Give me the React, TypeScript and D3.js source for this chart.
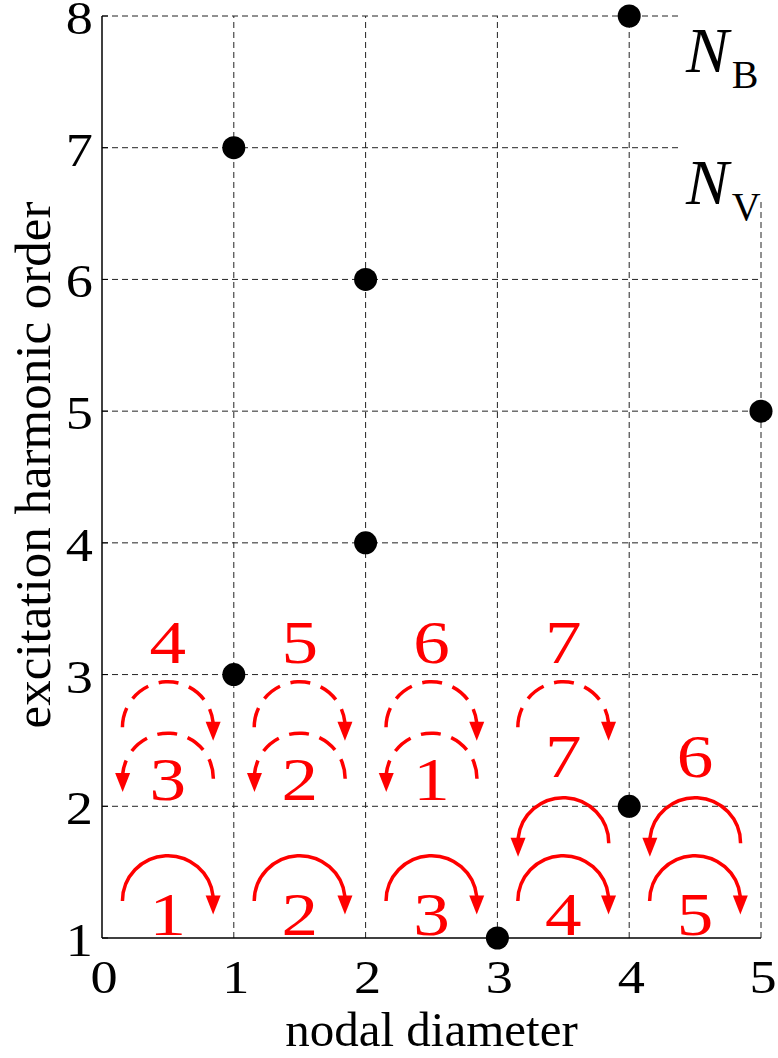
import React from "react";
import * as d3 from "d3";

// ---- data ----
const pointX = [1, 1, 2, 2, 3, 4, 4, 5];
const pointY = [7, 3, 6, 4, 1, 8, 2, 5];
const xTicks = [0, 1, 2, 3, 4, 5];
const yTicks = [1, 2, 3, 4, 5, 6, 7, 8];

// red arc annotations: cell index (left nodal diameter), label
const solidCwCells = [0, 1, 2, 3, 4];
const solidCwLabels = ["1", "2", "3", "4", "5"];
const solidCcwCells = [3, 4];
const solidCcwLabels = ["7", "6"];
const dashedCwCells = [0, 1, 2, 3];
const dashedCwLabels = ["4", "5", "6", "7"];
const dashedCcwCells = [0, 1, 2];
const dashedCcwLabels = ["3", "2", "1"];

const legendMain = ["N", "N"];
const legendSub = ["B", "V"];
const legendRowsY = [8, 7];

const W = 778;
const H = 1058;
const RED = "#ff0000";
const FF = "Liberation Serif";

const x = d3.scaleLinear().domain([0, 5]).range([102, 761]);
const y = d3.scaleLinear().domain([1, 8]).range([938, 16]);

const rows = {
  solidCw: { cy: 1.28, labelDy: 34, cw: true, dashed: false },
  solidCcw: { cy: 1.72, labelDy: -66, cw: false, dashed: false },
  dashedCcw: { cy: 2.21, labelDy: 21, cw: false, dashed: true },
  dashedCw: { cy: 2.6, labelDy: -64, cw: true, dashed: true },
};

function arcShape(cell: number, cyData: number, cw: boolean) {
  const cx = x(cell + 0.5);
  const cy = y(cyData);
  const r = (x(1) - x(0)) * 0.345;
  const delta = 0.1;
  const p = d3.path();
  let a0: number, a1: number;
  if (cw) {
    a0 = Math.PI;
    a1 = 2 * Math.PI - delta;
  } else {
    a0 = 0;
    a1 = -Math.PI + delta;
  }
  p.moveTo(cx + r * Math.cos(a0), cy + r * Math.sin(a0));
  p.arc(cx, cy, r, a0, a1, !cw);
  const ex = cx + r * Math.cos(a1);
  const ey = cy + r * Math.sin(a1);
  const hw = 7.5;
  const len = 18;
  const head = `M${ex - hw},${ey - 1}L${ex + hw},${ey - 1}L${ex},${ey + len}Z`;
  return { d: p.toString(), head, cx, cy };
}

function Digit({ x0, y0, size, fill, anchor, children }: any) {
  return (
    <text
      transform={`translate(${x0},${y0}) scale(1.18,1)`}
      textAnchor={anchor}
      fontSize={size}
      fontFamily={FF}
      fill={fill}
    >
      {children}
    </text>
  );
}

function ArcGroup({ cells, labels, row }: { cells: number[]; labels: string[]; row: any }) {
  return (
    <g>
      {cells.map((c, i) => {
        const s = arcShape(c, row.cy, row.cw);
        return (
          <g key={i}>
            <path
              d={s.d}
              fill="none"
              stroke={RED}
              strokeWidth={3.5}
              strokeDasharray={row.dashed ? "20,11" : undefined}
            />
            <path d={s.head} fill={RED} />
            <Digit x0={s.cx} y0={s.cy + row.labelDy} size={62} fill={RED} anchor="middle">
              {labels[i]}
            </Digit>
          </g>
        );
      })}
    </g>
  );
}

export default function App() {
  const gridStroke = "#222";
  const dash = "6,4";
  return (
    <svg
      width={W}
      height={H}
      style={{ position: "absolute", left: 0, top: 0, background: "#fff" }}
    >
      <rect x={0} y={0} width={W} height={H} fill="#fff" />
      {yTicks.slice(1).map((t) => (
        <line
          key={"h" + t}
          x1={x(0)}
          x2={x(5)}
          y1={y(t)}
          y2={y(t)}
          stroke={gridStroke}
          strokeWidth={1}
          strokeDasharray={dash}
        />
      ))}
      {xTicks.slice(1).map((t) => (
        <line
          key={"v" + t}
          x1={x(t)}
          x2={x(t)}
          y1={y(1)}
          y2={y(8)}
          stroke={gridStroke}
          strokeWidth={1}
          strokeDasharray={dash}
        />
      ))}
      <rect x={681} y={0} width={W - 681} height={199} fill="#fff" />
      {legendMain.map((m, i) => (
        <text key={i} x={686} y={y(legendRowsY[i]) + 56} fontFamily={FF} fill="#000">
          <tspan fontSize={64} fontStyle="italic">
            {m}
          </tspan>
          <tspan fontSize={40} dy={16} dx={3}>
            {legendSub[i]}
          </tspan>
        </text>
      ))}
      <line x1={x(0)} x2={x(0)} y1={y(8)} y2={y(1)} stroke="#000" strokeWidth={1.5} />
      <line x1={x(0)} x2={x(5)} y1={y(1)} y2={y(1)} stroke="#000" strokeWidth={1.5} />
      {yTicks.map((t) => (
        <line key={"yt" + t} x1={x(0)} x2={x(0) + 6} y1={y(t)} y2={y(t)} stroke="#000" strokeWidth={1} />
      ))}
      {yTicks.map((t) => (
        <Digit key={"yl" + t} x0={x(0) - 9} y0={y(t) + 18} size={46} fill="#000" anchor="end">
          {t}
        </Digit>
      ))}
      {xTicks.map((t) => (
        <Digit key={"xl" + t} x0={x(t) + 2} y0={y(1) + 55} size={46} fill="#000" anchor="middle">
          {t}
        </Digit>
      ))}
      <text x={x(2.5)} y={1046} textAnchor="middle" fontSize={49} fontFamily={FF}>
        nodal diameter
      </text>
      <text
        transform={`translate(50,${(y(1) + y(8)) / 2 - 12}) rotate(-90)`}
        textAnchor="middle"
        fontSize={51}
        fontFamily={FF}
      >
        excitation harmonic order
      </text>
      <ArcGroup cells={solidCwCells} labels={solidCwLabels} row={rows.solidCw} />
      <ArcGroup cells={solidCcwCells} labels={solidCcwLabels} row={rows.solidCcw} />
      <ArcGroup cells={dashedCcwCells} labels={dashedCcwLabels} row={rows.dashedCcw} />
      <ArcGroup cells={dashedCwCells} labels={dashedCwLabels} row={rows.dashedCw} />
      {pointX.map((px, i) => (
        <circle key={"p" + i} cx={x(px)} cy={y(pointY[i])} r={11.5} fill="#000" />
      ))}
    </svg>
  );
}
